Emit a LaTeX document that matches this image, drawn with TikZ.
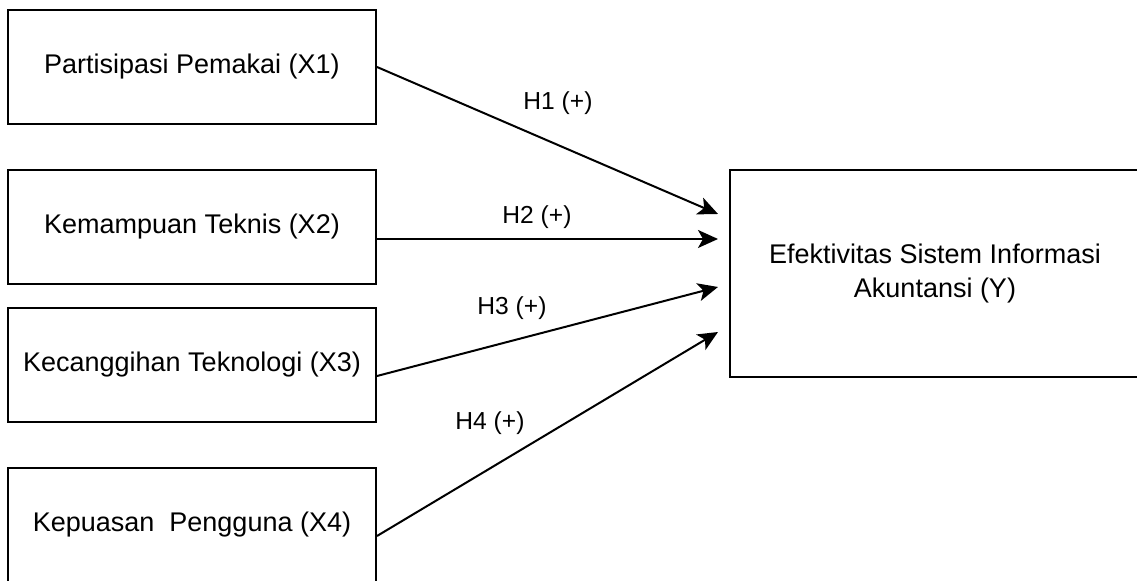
\documentclass[tikz,border=0pt]{standalone}
\usepackage{fontspec}
\setmainfont{Liberation Sans}
\usetikzlibrary{arrows.meta}

\tikzset{
  varbox/.style={draw, line width=1pt, minimum width=184pt, minimum height=57pt, inner sep=0pt, font=\fontsize{13.5}{17}\selectfont},
  hyp/.style={font=\fontsize{12.3}{15}\selectfont},
  link/.style={line width=1pt, -{Stealth[length=10pt,width=9pt,inset=2.5pt]}}
}

\begin{document}
\begin{tikzpicture}[x=0.5pt,y=-0.5pt]
\useasboundingbox (0,0) rectangle (1137,581);
% independent variables
\node[varbox] (x1) at (192,67) {Partisipasi Pemakai (X1)};
\node[varbox] (x2) at (192,227) {Kemampuan Teknis (X2)};
\node[varbox] (x3) at (192,365) {Kecanggihan Teknologi (X3)};
\node[varbox] (x4) at (192,525) {Kepuasan\ \ Pengguna (X4)};
% dependent variable
\node[varbox, minimum width=205pt, minimum height=103.5pt, align=center] (y) at (935,273.5) {Efektivitas Sistem Informasi\\Akuntansi (Y)};
\coordinate (t1) at (718,214);
\coordinate (t2) at (718,239);
\coordinate (t3) at (718,287);
\coordinate (t4) at (718,332);
% hypotheses
\draw[link] (x1.east) -- (t1);
\draw[link] ([yshift=-6pt]x2.east) -- (t2);
\draw[link] ([yshift=-5.5pt]x3.east) -- (t3);
\draw[link] ([yshift=-5.5pt]x4.east) -- (t4);
\node[hyp] (h1) at (558,103) {H1 (+)};
\node[hyp] (h2) at (537,217) {H2 (+)};
\node[hyp] (h3) at (512,308) {H3 (+)};
\node[hyp] (h4) at (490,423) {H4 (+)};
\end{tikzpicture}
\end{document}
